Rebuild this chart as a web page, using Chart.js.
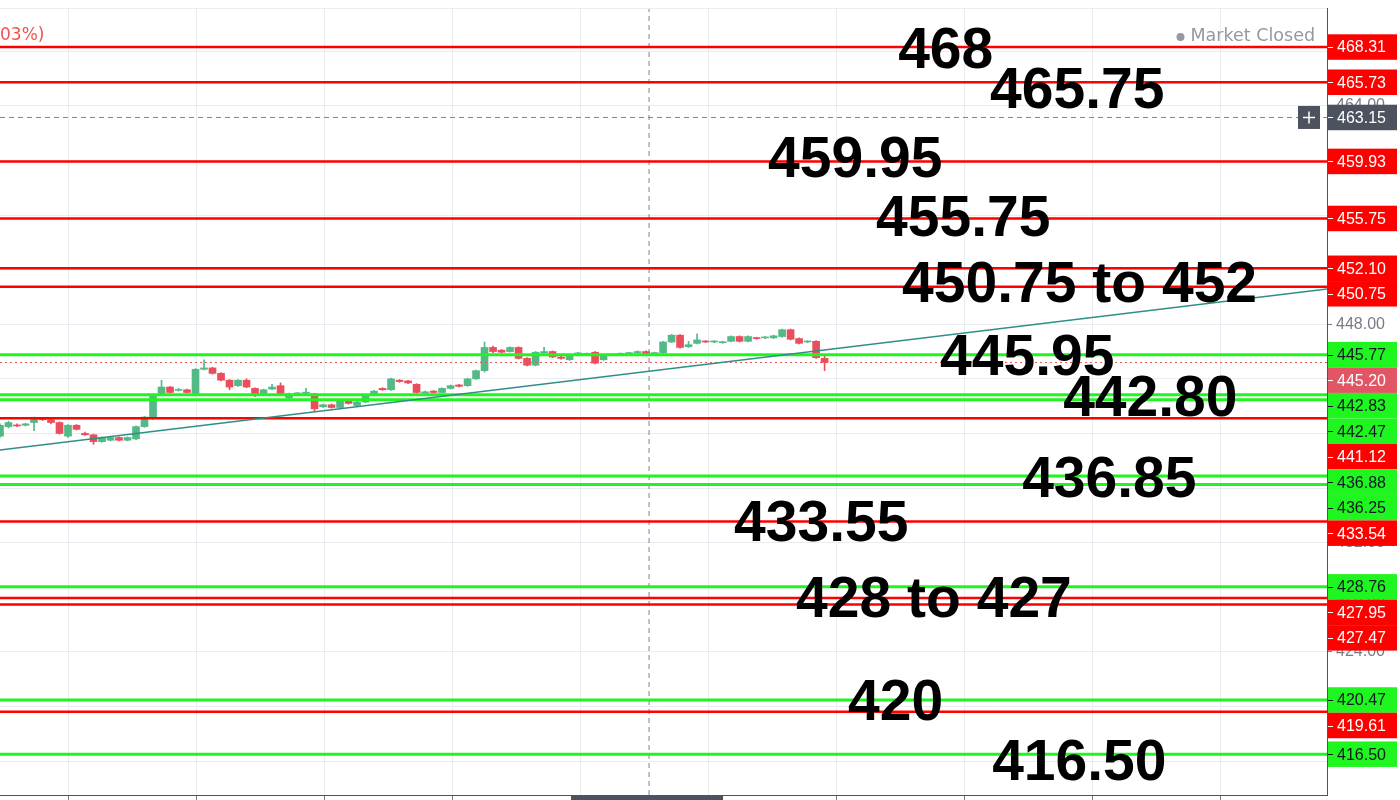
<!DOCTYPE html>
<html>
<head>
<meta charset="utf-8">
<script src="https://cdn.jsdelivr.net/npm/chart.js@4.4.1/dist/chart.umd.min.js"></script>
<style>
  html, body { margin: 0; padding: 0; background: #fff; }
  #wrap { width: 1400px; height: 800px; }
</style>
</head>
<body>
<div id="wrap"><canvas id="chart" width="1400" height="800"></canvas></div>
<script>
// candles (one every ~8.5px)
const opens  = [439.8,440.5,440.6,440.6,440.8,441.1,441.0,440.8,439.8,440.6,440.0,439.9,439.4,439.5,439.7,439.5,439.6,440.5,441.1,442.8,
                443.4,443.15,443.2,442.8,444.7,444.8,444.4,443.9,443.5,443.9,443.3,442.9,443.25,443.5,442.6,442.9,442.95,442.9,441.95,442.1,
                441.9,442.4,442.05,442.3,442.8,443.3,443.2,443.9,443.85,443.6,442.95,443.1,443.0,443.3,443.55,443.5,444.0,444.6,446.3,446.1,
                446.0,446.3,445.5,445.0,445.9,446.0,445.6,445.4,445.8,445.8,445.95,445.4,445.75,445.8,445.85,445.9,446.0,445.85,445.9,446.7,
                447.2,446.35,446.6,446.75,446.7,446.65,446.75,447.1,446.75,447.0,447.0,447.0,447.1,447.6,446.95,446.7,446.75,445.5];
const closes = [440.6,440.8,440.55,440.7,441.1,441.0,440.8,440.0,440.6,440.3,439.9,439.4,439.7,439.7,439.5,439.7,440.5,441.2,442.8,443.4,
                443.0,443.2,443.0,444.7,444.8,444.4,443.9,443.4,443.9,443.4,442.9,443.2,443.4,442.9,442.9,442.95,443.0,441.8,442.1,441.9,
                442.4,442.2,442.3,442.8,443.1,443.2,444.0,443.8,443.7,443.0,443.05,443.0,443.3,443.5,443.45,444.0,444.6,446.3,446.0,445.95,
                446.3,445.5,445.0,445.95,446.0,445.6,445.5,445.7,445.9,445.85,445.15,445.7,445.75,445.85,445.9,446.0,445.75,445.9,446.7,447.2,
                446.3,446.5,446.85,446.7,446.75,446.7,447.1,446.75,447.1,446.95,447.05,447.15,447.6,446.9,446.6,446.75,445.55,445.2];
const highs  = [440.7,440.9,440.7,440.75,441.2,441.15,441.05,440.85,440.65,440.65,440.1,439.95,439.75,439.8,439.75,439.75,440.55,441.25,442.9,443.9,
                443.45,443.3,443.25,444.75,445.4,444.85,444.45,443.95,443.95,444.0,443.35,443.25,443.6,443.7,442.95,443.0,443.3,442.95,442.15,442.15,
                442.45,442.45,442.35,442.85,443.15,443.35,444.05,443.95,443.9,443.65,443.1,443.15,443.35,443.55,443.6,444.05,444.65,446.7,446.4,446.15,
                446.35,446.35,445.55,446.0,446.3,446.05,445.65,445.75,445.95,445.9,446.0,445.75,445.8,445.9,445.95,446.05,446.05,445.95,446.75,447.25,
                447.25,446.75,447.3,446.8,446.8,446.75,447.15,447.15,447.15,447.05,447.1,447.2,447.65,447.65,447.0,446.8,446.8,445.7];
const lows   = [439.7,440.4,440.5,440.55,440.2,440.95,440.7,439.95,439.7,440.25,439.85,439.2,439.35,439.45,439.45,439.45,439.55,440.45,441.0,442.75,
                442.95,443.1,442.95,442.75,444.65,444.35,443.85,443.2,443.45,443.35,442.7,442.85,443.2,442.85,442.55,442.85,442.9,441.6,441.9,441.85,
                441.85,442.15,442.0,442.25,442.75,443.15,443.15,443.75,443.65,442.95,442.9,442.95,442.95,443.25,443.4,443.45,443.95,444.5,445.9,445.9,
                445.95,445.45,444.95,444.95,445.85,445.55,445.45,445.35,445.75,445.75,445.1,445.35,445.7,445.75,445.8,445.85,445.7,445.8,445.85,446.65,
                446.25,446.3,446.55,446.65,446.65,446.6,446.7,446.7,446.7,446.9,446.95,446.95,447.05,446.85,446.55,446.65,445.5,444.6];

// horizontal levels
const redLevels   = [468.31, 465.73, 459.93, 455.75, 452.10, 450.75, 441.12, 433.54, 427.95, 427.47, 419.61];
const greenLevels = [445.77, 442.83, 442.47, 436.88, 436.25, 428.76, 420.47, 416.50];
const lastPrice = 445.20;
const crossPrice = 463.15;
const crossIndex = 76.35;
const trendStart = 438.79, trendEnd = 450.58;

// big notes: text, candle index, price at baseline
const noteTexts  = ['468', '465.75', '459.95', '455.75', '450.75 to 452', '445.95', '442.80', '436.85', '433.55', '428 to 427', '420', '416.50'];
const noteIndex  = [105.65, 116.47, 90.35, 103.06, 106.12, 110.59, 125.06, 120.24, 86.35, 93.65, 99.76, 116.71];
const notePrices = [466.77, 463.84, 458.79, 454.47, 449.63, 444.28, 441.28, 435.34, 432.12, 426.55, 419.01, 414.61];

const yTicks = [416, 420, 424, 428, 432, 436, 440, 444, 448, 452, 456, 460, 464, 468];
const xMin = 0, xMax = 156.1, yMin = 413.51, yMax = 471.17;

const UP = '#53b987', DOWN = '#eb4d5c';
const RED = '#ff0000', GREEN = '#1ff51f';

const candleColors = opens.map((o, i) => closes[i] >= o ? UP : DOWN);

function levelLine(v, color, width) {
    return {
        type: 'line',
        data: [{ x: xMin, y: v }, { x: xMax, y: v }],
        borderColor: color,
        borderWidth: width,
        pointRadius: 0,
        fill: false,
        order: 2
    };
}

const datasets = [
    {
        type: 'bar',
        data: opens.map((o, i) => ({ x: i, y: [lows[i], highs[i]] })),
        backgroundColor: candleColors,
        barThickness: 1,
        minBarLength: 1,
        grouped: false,
        order: 11
    },
    {
        type: 'bar',
        data: opens.map((o, i) => ({ x: i, y: [o, closes[i]] })),
        backgroundColor: candleColors,
        barThickness: 7,
        minBarLength: 1,
        grouped: false,
        order: 10
    },
    ...redLevels.map(v => levelLine(v, RED, 2.5)),
    ...greenLevels.map(v => levelLine(v, GREEN, 3)),
    {
        type: 'line',
        data: [{ x: xMin, y: trendStart }, { x: xMax, y: trendEnd }],
        borderColor: '#2f8f86', borderWidth: 1.5, pointRadius: 0, order: 1
    },
    {
        type: 'line',
        data: [{ x: xMin, y: lastPrice }, { x: xMax, y: lastPrice }],
        borderColor: '#ef5350', borderWidth: 1, borderDash: [2, 3], pointRadius: 0, order: 3
    },
    {
        type: 'line',
        data: [{ x: xMin, y: crossPrice }, { x: xMax, y: crossPrice }],
        borderColor: '#758696', borderWidth: 1, borderDash: [5, 4], pointRadius: 0, order: 3
    },
    {
        type: 'line',
        data: [{ x: crossIndex, y: yMin }, { x: crossIndex, y: yMax }],
        borderColor: '#758696', borderWidth: 1, borderDash: [5, 4], pointRadius: 0, order: 3
    }
];

// price tags on the axis, notes and header texts
const overlay = {
    id: 'overlay',
    afterDraw(chart) {
        const ctx = chart.ctx, sx = chart.scales.x, sy = chart.scales.y, area = chart.chartArea;
        ctx.save();

        ctx.strokeStyle = '#e9edf2';
        ctx.lineWidth = 1;
        ctx.beginPath(); ctx.moveTo(0, area.top + 0.5); ctx.lineTo(area.right, area.top + 0.5); ctx.stroke();

        const tags = [];
        redLevels.forEach(v => tags.push({ v, bg: RED, fg: '#ffffff' }));
        greenLevels.forEach(v => tags.push({ v, bg: GREEN, fg: '#131722' }));
        tags.push({ v: lastPrice, bg: '#e25565', fg: '#ffffff' });
        tags.push({ v: crossPrice, bg: '#4c525e', fg: '#ffffff' });
        tags.sort((a, b) => b.v - a.v);

        const h = 25.5;
        let prev = -1e9;
        ctx.font = '16px "Liberation Sans", Arial, sans-serif';
        ctx.textAlign = 'left';
        ctx.textBaseline = 'middle';
        tags.forEach(t => {
            const cy = Math.max(sy.getPixelForValue(t.v), prev + h);
            prev = cy;
            ctx.fillStyle = t.bg;
            ctx.fillRect(area.right + 1, cy - h / 2, 69, h);
            ctx.strokeStyle = t.fg;
            ctx.lineWidth = 1;
            ctx.beginPath(); ctx.moveTo(area.right + 1, Math.round(cy) + 0.5); ctx.lineTo(area.right + 6, Math.round(cy) + 0.5); ctx.stroke();
            ctx.fillStyle = t.fg;
            ctx.fillText(t.v.toFixed(2), area.right + 10, cy + 1);
        });

        // crosshair "+" button
        const cyp = sy.getPixelForValue(crossPrice);
        ctx.fillStyle = '#4c525e';
        ctx.fillRect(area.right - 29, cyp - 11.5, 22, 23);
        ctx.strokeStyle = '#ffffff';
        ctx.lineWidth = 1.5;
        ctx.beginPath();
        ctx.moveTo(area.right - 24, cyp); ctx.lineTo(area.right - 12, cyp);
        ctx.moveTo(area.right - 18, cyp - 6); ctx.lineTo(area.right - 18, cyp + 6);
        ctx.stroke();

        // crosshair time label (cut at the bottom)
        const cxp = sx.getPixelForValue(crossIndex);
        ctx.fillStyle = '#4c525e';
        ctx.fillRect(cxp - 78, area.bottom + 1, 152, 6);

        // header
        ctx.fillStyle = '#ef5350';
        ctx.font = '17px "DejaVu Sans", sans-serif';
        ctx.textBaseline = 'middle';
        ctx.fillText('03%)', 0, 36);
        ctx.fillStyle = '#9598a1';
        ctx.font = '17.5px "DejaVu Sans", sans-serif';
        ctx.textAlign = 'right';
        const mcRight = area.right - 12;
        ctx.fillText('Market Closed', mcRight, 36);
        const mcW = ctx.measureText('Market Closed').width;
        ctx.beginPath(); ctx.arc(mcRight - mcW - 10, 37, 4, 0, Math.PI * 2); ctx.fill();

        // notes
        ctx.fillStyle = '#000000';
        ctx.font = 'bold 57px "Liberation Sans", Arial, sans-serif';
        ctx.textAlign = 'left';
        ctx.textBaseline = 'alphabetic';
        noteTexts.forEach((t, i) => ctx.fillText(t, sx.getPixelForValue(noteIndex[i]), sy.getPixelForValue(notePrices[i])));

        ctx.restore();
    }
};

const chart = new Chart(document.getElementById('chart').getContext('2d'), {
    type: 'bar',
    data: { datasets: datasets },
    options: {
        responsive: false,
        devicePixelRatio: 1,
        animation: false,
        layout: { padding: { top: 8, left: 0, right: 0, bottom: 0 } },
        plugins: { legend: { display: false }, tooltip: { enabled: false } },
        scales: {
            x: {
                type: 'linear',
                min: xMin, max: xMax,
                offset: false,
                afterBuildTicks: s => { s.ticks = [0, 1, 2, 3, 4, 5, 6, 7, 8, 9].map(k => ({ value: 8 + k * 15.06 })); },
                afterFit: s => { s.height = 5; s.paddingLeft = 0; s.paddingRight = 0; },
                ticks: { display: false },
                grid: { offset: false, color: '#e9edf2', tickLength: 5, tickColor: '#787b86' },
                border: { color: '#50535e' }
            },
            y: {
                type: 'linear',
                position: 'right',
                min: yMin, max: yMax,
                afterBuildTicks: s => { s.ticks = yTicks.map(v => ({ value: v })); },
                afterFit: s => { s.width = 73; s.paddingTop = 0; s.paddingBottom = 0; },
                ticks: {
                    color: '#787b86',
                    padding: 4,
                    font: { family: '"Liberation Sans", Arial, sans-serif', size: 16 },
                    callback: v => v.toFixed(2)
                },
                grid: { color: '#e9edf2', tickLength: 5, tickColor: '#787b86' },
                border: { color: '#50535e' }
            }
        }
    },
    plugins: [overlay]
});
</script>
</body>
</html>
